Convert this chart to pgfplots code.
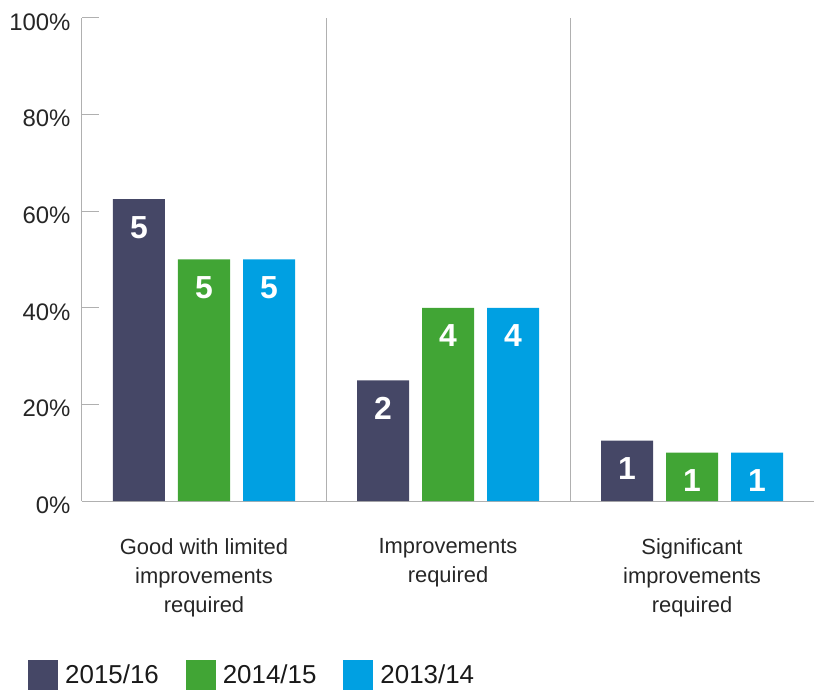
\documentclass[border=0pt]{standalone}
\usepackage{fontspec}
\setmainfont{Liberation Sans}
\usepackage{pgfplots}
\pgfplotsset{compat=1.18}
\usetikzlibrary{calc}
\definecolor{cNavy}{HTML}{454766}
\definecolor{cGreen}{HTML}{41A535}
\definecolor{cBlue}{HTML}{00A0E2}
\definecolor{cAxis}{HTML}{B0B0B0}
\begin{document}
\begin{tikzpicture}
\begin{axis}[
  scale only axis,
  width=732bp, height=483bp,
  xmin=-0.5, xmax=2.5,
  ymin=0, ymax=100,
  axis x line=bottom, axis y line=left,
  axis line style={-, cAxis, line width=1bp},
  ybar=13bp, bar width=52bp,
  xtick={0,1,2},
  xticklabels={{Good with limited\\improvements\\required},{Improvements\\required},{Significant\\improvements\\required}},
  xticklabel style={align=center, font=\fontsize{22}{29}\selectfont, text=black!85, yshift=-34bp},
  x tick style={draw=none},
  extra x ticks={0.5,1.5},
  extra x tick labels={},
  extra x tick style={grid=major, major grid style={cAxis, line width=1bp}, major tick length=0pt},
  ytick={0,20,40,60,80,100},
  yticklabel={\pgfmathprintnumber{\tick}\%},
  yticklabel style={font=\fontsize{24}{28}\selectfont, text=black!85, xshift=-8bp, yshift=-4bp},
  /pgf/number format/assume math mode=true,
  y tick style={cAxis, line width=1bp},
  ytick pos=left,
  tick align=inside,
  major tick length=17bp,
  nodes near coords,
  point meta=explicit symbolic,
  every node near coord/.append style={anchor=north, yshift=-17bp, inner sep=0pt, text=white, font=\fontsize{32}{34}\selectfont\bfseries},
  legend columns=3,
  legend style={draw=none, fill=none, inner sep=0pt, at={(axis description cs:0,0)}, anchor=north west, xshift=-54bp, yshift=-159bp, font=\fontsize{26}{28}\selectfont, text=black!90,
    nodes={inner sep=0pt},
    /tikz/every even column/.append style={column sep=27bp},
    /tikz/every odd column/.append style={column sep=7bp}},
  legend image code/.code={\fill[#1] (0bp,-15bp) rectangle (30bp,15bp);},
  clip=false,
]
\addplot[fill=cNavy, draw=none] coordinates {(0,62.5) [5] (1,25) [2] (2,12.5) [1]};
\addplot[fill=cGreen, draw=none] coordinates {(0,50) [5] (1,40) [4] (2,10) [1]};
\addplot[fill=cBlue, draw=none] coordinates {(0,50) [5] (1,40) [4] (2,10) [1]};
\legend{2015/16,2014/15,2013/14}
\end{axis}
\pgfresetboundingbox
\path[use as bounding box] ($(current axis.south west)+(-82bp,-192bp)$) rectangle ($(current axis.north east)+(5bp,18bp)$);
\end{tikzpicture}
\end{document}
